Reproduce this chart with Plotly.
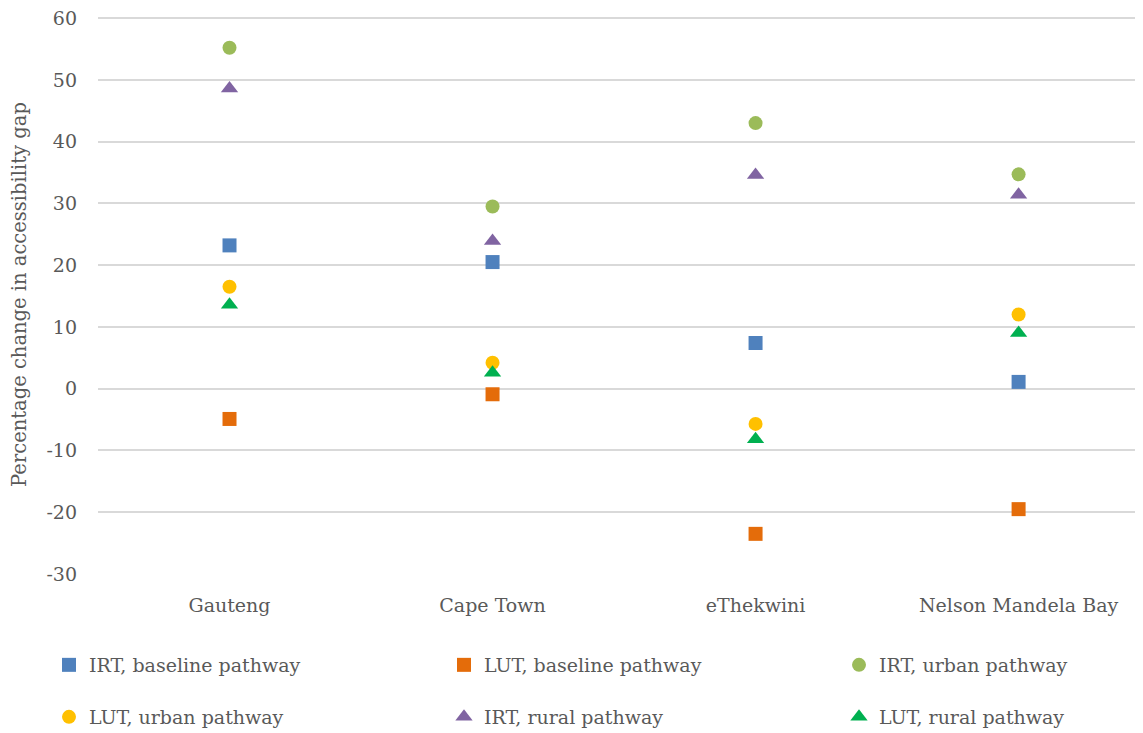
import plotly.graph_objects as go

categories = ["Gauteng", "Cape Town", "eThekwini", "Nelson Mandela Bay"]
irt_baseline = [23.2, 20.5, 7.4, 1.1]
lut_baseline = [-4.9, -0.9, -23.5, -19.5]
irt_urban = [55.2, 29.5, 43.0, 34.7]
lut_urban = [16.5, 4.2, -5.7, 12.0]
irt_rural = [48.6, 23.9, 34.6, 31.4]
lut_rural = [13.6, 2.6, -8.2, 9.0]
y_ticks = [60, 50, 40, 30, 20, 10, 0, -10, -20, -30]
y_tick_labels = ["60", "50", "40", "30", "20", "10", "0", "-10", "-20", "-30"]

series = [
    ("IRT, baseline pathway", irt_baseline, "square", "#4F81BD"),
    ("LUT, baseline pathway", lut_baseline, "square", "#E46C0A"),
    ("IRT, urban pathway", irt_urban, "circle", "#9BBB59"),
    ("LUT, urban pathway", lut_urban, "circle", "#FFC000"),
    ("IRT, rural pathway", irt_rural, "triangle-up", "#8064A2"),
    ("LUT, rural pathway", lut_rural, "triangle-up", "#00B050"),
]

FONT = "DejaVu Serif, serif"
TXT = "#595959"
legend_ids = ["legend", "legend2", "legend3", "legend4", "legend5", "legend6"]
legend_x = [41, 436, 831]          # item start (px) per column
legend_y = [657, 709]              # row centre (px)

fig = go.Figure()
for (name, vals, sym, col), lid in zip(series, legend_ids):
    fig.add_trace(go.Scatter(
        x=categories, y=vals, mode="markers", name=name, legend=lid,
        showlegend=True,
        marker=dict(symbol=sym, color=col, size=15 if sym == "triangle-up" else 14,
                    line=dict(width=0)),
    ))

W, H = 1135, 725
legend_layout = {}
for i, lid in enumerate(legend_ids):
    legend_layout[lid] = dict(
        orientation="h", xref="container", yref="container",
        x=legend_x[i % 3] / W, y=1 - legend_y[i // 3] / H,
        xanchor="left", yanchor="middle",
        font=dict(family=FONT, size=19, color=TXT), bgcolor="rgba(0,0,0,0)",
    )

fig.update_layout(
    width=W, height=H, showlegend=True,
    margin=dict(l=90, r=0, t=7, b=159, autoexpand=False),
    paper_bgcolor="white", plot_bgcolor="white",
    font=dict(family=FONT, size=19, color=TXT),
    xaxis=dict(
        type="category", range=[-0.5, 3.473], showgrid=False, zeroline=False,
        showline=False, ticks="", ticklabelstandoff=18,
        tickfont=dict(family=FONT, size=19, color=TXT),
    ),
    yaxis=dict(
        range=[-30, 60.5], tickvals=y_ticks, ticktext=y_tick_labels,
        showgrid=True, gridcolor="#D9D9D9",
        gridwidth=1.5, zeroline=False, showline=False, ticks="",
        ticklabelstandoff=20, ticklabeloverflow="allow",
        tickfont=dict(family=FONT, size=19, color=TXT),
        title=dict(text="Percentage change in accessibility gap", standoff=20,
                   font=dict(family=FONT, size=19.5, color=TXT)),
    ),
    **legend_layout,
)

fig.write_html("out.html")
